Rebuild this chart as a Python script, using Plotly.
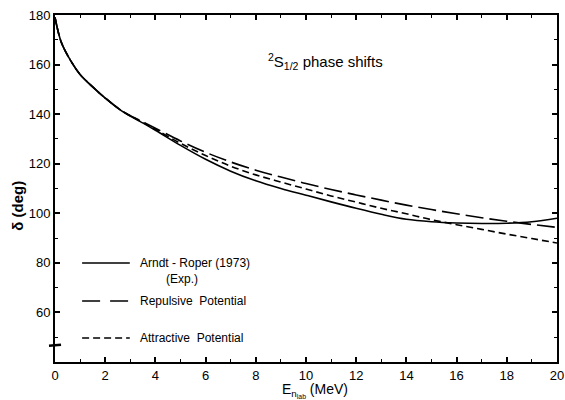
import plotly.graph_objects as go

# Energy grid (MeV)
energy = [0, 0.25, 0.6, 1, 1.5, 2, 2.7, 3.4, 4, 5, 6, 7, 8, 9, 10, 11, 12, 13, 14, 15, 16, 17, 18, 19, 20]

# Arndt-Roper (1973) experimental phase shifts (deg)
arndt_roper = [179, 169, 162, 156, 151, 146.5, 141, 137, 133.5, 127.4, 121.8, 117, 113.1, 110, 107.3,
               104.6, 102, 99.6, 97.6, 96.6, 96.1, 95.9, 96.0, 96.6, 98]

# Repulsive potential
repulsive = [179, 169, 162, 156, 151, 146.5, 141.1, 137.4, 134.3, 129.2, 124.6, 120.7, 117.4, 114.6, 112,
             109.6, 107.4, 105.3, 103.3, 101.5, 99.8, 98.2, 96.8, 95.5, 94.3]

# Attractive potential
attractive = [179, 169, 162, 156, 151, 146.5, 141.1, 137.2, 133.9, 128.2, 123.3, 119, 115.5, 112.6, 109.8,
              107, 104.5, 102, 99.8, 97.4, 95.4, 93.5, 91.6, 89.8, 88]

x_ticks = [0, 2, 4, 6, 8, 10, 12, 14, 16, 18, 20]
y_ticks = [60, 80, 100, 120, 140, 160, 180]

FONT = "Liberation Sans"

fig = go.Figure()
fig.add_trace(go.Scatter(x=energy, y=arndt_roper, mode="lines", line=dict(color="black", width=1.6, shape="spline"),
                         name="Arndt - Roper (1973) (Exp.)"))
fig.add_trace(go.Scatter(x=energy, y=repulsive, mode="lines",
                         line=dict(color="black", width=1.6, dash="18px,6px", shape="spline"),
                         name="Repulsive Potential"))
fig.add_trace(go.Scatter(x=energy, y=attractive, mode="lines",
                         line=dict(color="black", width=1.6, dash="7px,4px", shape="spline"),
                         name="Attractive Potential"))

axis_common = dict(showgrid=False, zeroline=False, showline=True, linecolor="black", linewidth=2,
                   mirror="allticks", ticks="inside", ticklen=5, tickwidth=1.5, tickcolor="black",
                   automargin=False, tickfont=dict(family=FONT, size=13, color="black"))

fig.update_xaxes(range=[0, 20], tickvals=x_ticks, ticktext=[str(v) for v in x_ticks],
                 minor=dict(dtick=1, ticks="inside", ticklen=3, tickwidth=1.2, tickcolor="black"),
                 **axis_common)
fig.update_yaxes(range=[40, 180], tickvals=y_ticks, ticktext=[str(v) for v in y_ticks],
                 minor=dict(tickvals=[50, 70, 90, 110, 130, 150, 170], ticks="inside", ticklen=3,
                            tickwidth=1.2, tickcolor="black"),
                 **axis_common)

# legend drawn as samples + labels
leg_x0, leg_x1 = 0.054, 0.149
shapes = [
    dict(type="line", xref="paper", yref="paper", x0=leg_x0, x1=leg_x1, y0=0.285, y1=0.285,
         line=dict(color="black", width=1.5)),
    dict(type="line", xref="paper", yref="paper", x0=leg_x0, x1=leg_x1, y0=0.176, y1=0.176,
         line=dict(color="black", width=1.5, dash="18px,10px")),
    dict(type="line", xref="paper", yref="paper", x0=leg_x0, x1=leg_x1, y0=0.069, y1=0.069,
         line=dict(color="black", width=1.5, dash="7px,4px")),
    # axis break mark
    dict(type="line", xref="paper", yref="paper", x0=-0.012, x1=0.012, y0=0.047, y1=0.05,
         line=dict(color="black", width=2.5)),
]
fig.update_layout(shapes=shapes)

ann_font = dict(family=FONT, size=12, color="black")
annotations = [
    dict(text="Arndt - Roper (1973)", x=0.165, y=0.285, xref="paper", yref="paper", xanchor="left",
         yanchor="middle", showarrow=False, font=ann_font),
    dict(text="(Exp.)", x=0.252, y=0.238, xref="paper", yref="paper", xanchor="center",
         yanchor="middle", showarrow=False, font=ann_font),
    dict(text="Repulsive  Potential", x=0.165, y=0.176, xref="paper", yref="paper", xanchor="left",
         yanchor="middle", showarrow=False, font=ann_font),
    dict(text="Attractive  Potential", x=0.165, y=0.069, xref="paper", yref="paper", xanchor="left",
         yanchor="middle", showarrow=False, font=ann_font),
    dict(text="<sup>2</sup>S<sub>1/2</sub> phase shifts", x=0.539, y=0.865, xref="paper", yref="paper",
         xanchor="center", yanchor="middle", showarrow=False, font=dict(family=FONT, size=15, color="black")),
    dict(text="<b>δ (deg)</b>", x=-0.074, y=0.45, xref="paper", yref="paper", textangle=-90,
         xanchor="center", yanchor="middle", showarrow=False, font=dict(family=FONT, size=15, color="black")),
    dict(text="E<sub>n<sub>lab</sub></sub> (MeV)", x=0.517, y=-0.05, xref="paper", yref="paper",
         xanchor="center", yanchor="top", showarrow=False, font=dict(family=FONT, size=14, color="black")),
]
fig.update_layout(annotations=annotations)

fig.update_layout(width=565, height=400, margin=dict(l=55, r=8, t=15, b=38),
                  plot_bgcolor="white", paper_bgcolor="white", showlegend=False)

fig.write_html("out.html", config={"displayModeBar": False},
               post_script="document.body.style.margin='0';document.body.style.overflow='hidden';")
